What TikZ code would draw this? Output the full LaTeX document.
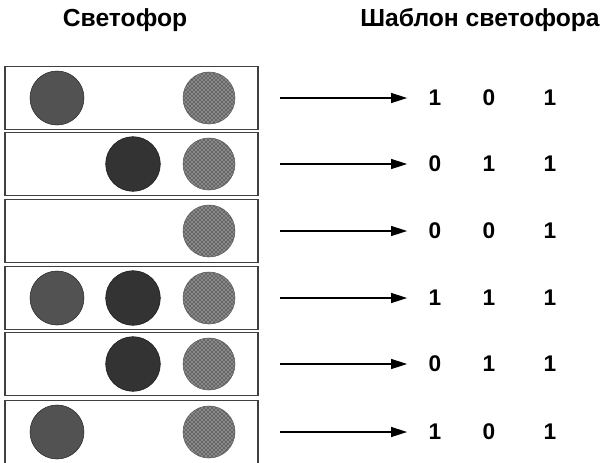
\documentclass[tikz,border=0pt]{standalone}
\usepackage{fontspec}
\setmainfont{Liberation Sans}
\usetikzlibrary{positioning, arrows.meta, patterns}

\begin{document}
\begin{tikzpicture}[x=0.75pt, y=-0.75pt,
  frame/.style={draw=black!75, line width=0.8pt, minimum width=189.75pt, minimum height=47.25pt, inner sep=0pt},
  lampL/.style={circle, draw=black!85, fill=black!68, minimum size=40.5pt, inner sep=0pt},
  lampM/.style={circle, draw=black!90, fill=black!80, minimum size=41pt, inner sep=0pt},
  lampR/.style={circle, draw=black!65, preaction={fill=black!60}, pattern=crosshatch dots, pattern color=white, minimum size=39pt, inner sep=0pt},
  head/.style={font=\bfseries\fontsize{18.5}{22}\selectfont, inner sep=0pt},
  bit/.style={font=\bfseries\fontsize{17}{20}\selectfont, inner sep=0pt},
  arr/.style={-{Triangle[length=12pt, width=7.5pt]}, line width=0.8pt, shorten >=16pt}]
  \useasboundingbox (0,0) rectangle (601,462);

  % headers
  \node[head] (hL) at (125,20) {Светофор};
  \node[head] (hR) at (480,20) {Шаблон светофора};

  % one row per light: box, lamps, arrow, pattern
  \foreach \i/\y/\a/\b/\c in {1/98/1/0/1, 2/164/0/1/1, 3/231/0/0/1, 4/298/1/1/1, 5/364/0/1/1, 6/432/1/0/1} {
    \node[frame] (r\i) at (131.5,\y) {};
    \ifnum\a=1 \node[lampL] (l\i) at (57,\y) {}; \fi
    \ifnum\b=1 \node[lampM] (m\i) at (133,\y) {}; \fi
    \ifnum\c=1 \node[lampR] (g\i) at (209,\y) {}; \fi
    \node[bit] (b\i1) at (435,\y) {\a};
    \node[bit] (b\i2) at (489,\y) {\b};
    \node[bit] (b\i3) at (550,\y) {\c};
    \coordinate (t\i) at (280,\y);
    \draw[arr] (t\i) -- (b\i1);
  }
\end{tikzpicture}
\end{document}
